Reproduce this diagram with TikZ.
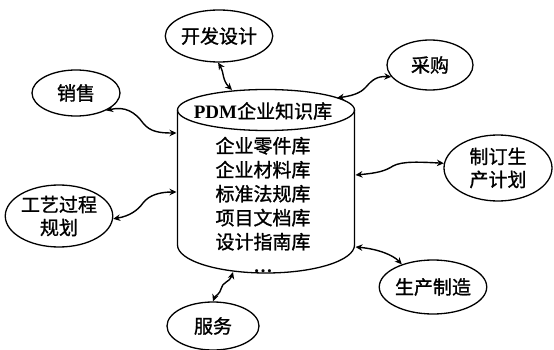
\documentclass[tikz,border=0pt]{standalone}
\usepackage{fontspec}
\setmainfont{Liberation Serif}
\newfontfamily\cjk[FakeBold=1.2]{Noto Sans CJK SC}
\usetikzlibrary{shapes.geometric,arrows.meta}
\begin{document}
\begin{tikzpicture}[x=1pt,y=-1pt,
  oval/.style={ellipse,draw,line width=1.3pt,inner sep=0pt,
    font=\cjk\fontsize{19}{23}\selectfont,align=center},
  dbtext/.style={inner sep=0pt,font=\cjk\fontsize{19}{24}\selectfont,align=center},
  link/.style={line width=1.4pt,
    {Stealth[length=7pt,width=6.5pt]}-{Stealth[length=7pt,width=6.5pt]}},
  dbline/.style={line width=1.3pt}]
\useasboundingbox (0,0) rectangle (554,350);

% database cylinder
\draw[dbline] (266,110) ellipse [x radius=88.5pt, y radius=20.5pt];
\draw[dbline] (177.5,110) -- (177.5,245)
   arc[start angle=180,end angle=360,x radius=88.5pt,y radius=28pt] -- (354.5,110);
\node[dbtext] (dbtitle) at (263,111) {\textbf{\rmfamily PDM}企业知识库};
\node[dbtext] (dbbody) at (263,205) {企业零件库\\企业材料库\\标准法规库\\项目文档库\\设计指南库\\\textbf{\rmfamily …}};

% connector ends on the cylinder
\coordinate (cA) at (176.5,133);
\coordinate (cB) at (232,90);
\coordinate (cC) at (337,98);
\coordinate (cD) at (355.5,175);
\coordinate (cE) at (176.5,192);
\coordinate (cF) at (233,272);
\coordinate (cG) at (355.5,247);

% surrounding activities
\node[oval,minimum width=104pt,minimum height=52pt] (kf) at (219,36) {开发设计};
\node[oval,minimum width=88pt,minimum height=46pt] (xs) at (76,93) {销售};
\node[oval,minimum width=86pt,minimum height=50pt] (cg) at (430,65) {采购};
\node[oval,minimum width=108pt,minimum height=66pt] (zd) at (498,168) {制订生\\产计划};
\node[oval,minimum width=102pt,minimum height=62pt] (gy) at (59,216) {工艺过程\\规划};
\node[oval,minimum width=92pt,minimum height=48pt] (fw) at (213,326) {服务};
\node[oval,minimum width=102pt,minimum height=54pt] (sc) at (433,287) {生产制造};

% connectors
\draw[link] (xs.-30) .. controls (125,106) and (135,112) .. (143,123)
   .. controls (150,132) and (160,133) .. (cA);
\draw[link] (kf.-92) .. controls (224,72) and (222,80) .. (cB);
\draw[link] (cg.197) .. controls (377,76) and (372,80) .. (366,87)
   .. controls (360,94) and (350,96) .. (cC);
\draw[link] (cD) .. controls (378,173) and (385,171) .. (393,166)
   .. controls (402,161) and (420,162) .. (zd.175);
\draw[link] (gy.-3) .. controls (130,216) and (138,210) .. (143,203)
   .. controls (149,195) and (160,192) .. (cE);
\draw[link] (cF) .. controls (230,282) and (222,282) .. (221,289)
   .. controls (220,294) and (215,296) .. (fw.north);
\draw[link] (cG) .. controls (378,249) and (393,255) .. (sc.144);
\end{tikzpicture}
\end{document}
